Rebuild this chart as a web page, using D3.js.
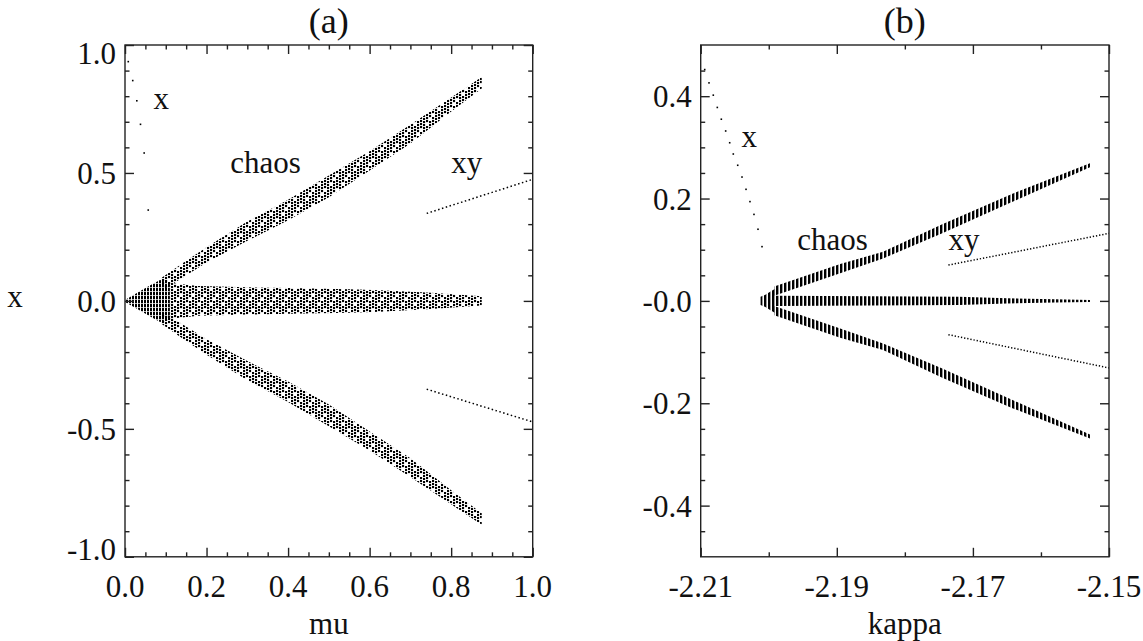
<!DOCTYPE html>
<html>
<head>
<meta charset="utf-8">
<script src="https://cdn.jsdelivr.net/npm/d3@7"></script>
<style>
  body { margin: 0; background: #fff; }
</style>
</head>
<body>
<svg id="chart" width="1143" height="641" font-family="Liberation Serif, DejaVu Serif, serif"></svg>
<script>
// ---------- panel (a): orbit diagram against mu ----------
const muDomain = [0, 1];
const xDomainA = [-1, 1];
const muMajorTicks = [0, 0.2, 0.4, 0.6, 0.8, 1.0];
const muTickLabels = ["0.0", "0.2", "0.4", "0.6", "0.8", "1.0"];
const muMinorTicks = [0.05, 0.1, 0.15, 0.25, 0.3, 0.35, 0.45, 0.5, 0.55, 0.65, 0.7, 0.75, 0.85, 0.9, 0.95];
const xaMajorTicks = [-1, -0.5, 0, 0.5, 1];
const xaTickLabels = ["-1.0", "-0.5", "0.0", "0.5", "1.0"];
const xaMinorTicks = [-0.9, -0.8, -0.7, -0.6, -0.4, -0.3, -0.2, -0.1, 0.1, 0.2, 0.3, 0.4, 0.6, 0.7, 0.8, 0.9];

// single fixed point (x branch)
const muFixed = [0.008, 0.019, 0.029, 0.038, 0.047, 0.057];
const xFixedA = [0.935, 0.861, 0.782, 0.690, 0.578, 0.355];

// chaotic set: opening fan, central band and the two symmetric wings
const muFan = [0.0, 0.025, 0.061, 0.086, 0.11];
const fanHalfA = [0.004, 0.027, 0.06, 0.082, 0.07];
const muCentre = [0.11, 0.18, 0.25, 0.40, 0.55, 0.625, 0.75, 0.875];
const centreHalfA = [0.07, 0.058, 0.055, 0.05, 0.046, 0.042, 0.032, 0.018];
const muWing = [0.09, 0.135, 0.2, 0.3, 0.4, 0.5, 0.6, 0.7, 0.8, 0.875];
const wingLoA = [0.04, 0.085, 0.15, 0.235, 0.315, 0.405, 0.51, 0.615, 0.74, 0.83];
const wingHiA = [0.09, 0.14, 0.21, 0.31, 0.395, 0.49, 0.585, 0.688, 0.795, 0.875];

// xy (two-component) branch
const muXY = [0.74, 1.0];
const xyUpperA = [0.342, 0.475];
const xyLowerA = [-0.345, -0.473];

// ---------- panel (b): orbit diagram against kappa ----------
const kappaDomain = [-2.21, -2.15];
const xDomainB = [-0.5, 0.5];
const kappaMajorTicks = [-2.21, -2.19, -2.17, -2.15];
const kappaTickLabels = ["-2.21", "-2.19", "-2.17", "-2.15"];
const kappaMinorTicks = [-2.20, -2.18, -2.16];
const xbMajorTicks = [-0.4, -0.2, 0, 0.2, 0.4];
const xbTickLabels = ["-0.4", "-0.2", "-0.0", "0.2", "0.4"];
const xbMinorTicks = [-0.45, -0.35, -0.3, -0.25, -0.15, -0.1, -0.05, 0.05, 0.1, 0.15, 0.25, 0.3, 0.35, 0.45];

const kappaFixed = [-2.20941, -2.20878, -2.20815, -2.20756, -2.20697, -2.20633, -2.20574, -2.20521,
                    -2.20456, -2.20393, -2.20334, -2.20276, -2.20217, -2.20158, -2.20099];
const xFixedB = [0.452, 0.426, 0.402, 0.378, 0.355, 0.332, 0.309, 0.287,
                 0.265, 0.242, 0.218, 0.194, 0.169, 0.140, 0.106];

const kappaFan = [-2.2012, -2.2005, -2.1998, -2.1990];
const fanHalfB = [0.008, 0.012, 0.018, 0.024];
const kappaCentre = [-2.1990, -2.1850, -2.1720, -2.1650, -2.1580, -2.1528];
const centreHalfB = [0.010, 0.009, 0.008, 0.005, 0.003, 0.002];
const kappaWing = [-2.1992, -2.1895, -2.1832, -2.1745, -2.1641, -2.1528];
const wingLoB = [0.010, 0.054, 0.083, 0.132, 0.194, 0.261];
const wingHiB = [0.028, 0.072, 0.096, 0.150, 0.210, 0.269];

const kappaXY = [-2.1736, -2.15];
const xyUpperB = [0.070, 0.132];
const xyLowerB = [-0.066, -0.131];

// annotation labels [parameter, x, text]
const labelsA = [[0.07, 0.75, "x"], [0.258, 0.5, "chaos"], [0.80, 0.5, "xy"]];
const labelsB = [[-2.2040, 0.30, "x"], [-2.1958, 0.10, "chaos"], [-2.1736, 0.10, "xy"]];

// ---------- layout ----------
const svg = d3.select("#chart");
const frameTop = 45, frameBottom = 556.8;
const FONT = 31;
const INK = "#111";

const defs = svg.append("defs");

// speckle texture for the scattered orbit points of panel (a):
// columns 3px apart, dots about 3px apart vertically, some cells empty
const speckle = [
  [0, 0], [3, 1], [6, 0], [9, 1],
  [0, 3], [3, 4], [9, 4],
  [0, 6], [3, 7], [6, 6], [9, 7],
  [3, 10], [6, 9], [9, 10],
  [0, 12], [3, 13], [6, 12]
];
const pDots = defs.append("pattern").attr("id", "dotsA")
  .attr("patternUnits", "userSpaceOnUse").attr("width", 12).attr("height", 15);
pDots.selectAll("rect").data(speckle).join("rect")
  .attr("x", d => d[0]).attr("y", d => d[1])
  .attr("width", 2.1).attr("height", 2.1).attr("fill", "#000");

// denser columns near the onset of chaos
const pCols = defs.append("pattern").attr("id", "colsA")
  .attr("patternUnits", "userSpaceOnUse").attr("width", 3).attr("height", 4);
pCols.append("rect").attr("width", 2).attr("height", 3.3).attr("fill", "#000");

// vertical bars of panel (b)
const pBars = defs.append("pattern").attr("id", "barsB")
  .attr("patternUnits", "userSpaceOnUse").attr("width", 4).attr("height", 8);
pBars.append("rect").attr("width", 2.4).attr("height", 8).attr("fill", "#000");

function zipBand(ps, lo, hi) {
  return ps.map((p, i) => ({ p, lo: lo[i], hi: hi[i] }));
}

function drawPanel(cfg) {
  const x = d3.scaleLinear().domain(cfg.xDomain).range([cfg.left, cfg.right]);
  const y = d3.scaleLinear().domain(cfg.yDomain).range([frameBottom, frameTop]);
  const g = svg.append("g");

  const clipId = "clip" + cfg.id;
  defs.append("clipPath").attr("id", clipId).append("rect")
    .attr("x", cfg.left).attr("y", frameTop)
    .attr("width", cfg.right - cfg.left).attr("height", frameBottom - frameTop);
  const plot = g.append("g").attr("clip-path", `url(#${clipId})`);

  const area = d3.area().x(d => x(d.p)).y0(d => y(d.lo)).y1(d => y(d.hi));

  // fan, central band and wings of the chaotic attractor
  plot.append("path")
    .attr("d", area(zipBand(cfg.fanP, cfg.fanHalf.map(v => -v), cfg.fanHalf)))
    .attr("fill", `url(#${cfg.fanFill})`);
  plot.append("path")
    .attr("d", area(zipBand(cfg.centreP, cfg.centreHalf.map(v => -v), cfg.centreHalf)))
    .attr("fill", `url(#${cfg.bandFill})`);
  plot.append("path")
    .attr("d", area(zipBand(cfg.wingP, cfg.wingLo, cfg.wingHi)))
    .attr("fill", `url(#${cfg.bandFill})`);
  plot.append("path")
    .attr("d", area(zipBand(cfg.wingP, cfg.wingHi.map(v => -v), cfg.wingLo.map(v => -v))))
    .attr("fill", `url(#${cfg.bandFill})`);

  // fixed point branch
  plot.selectAll("rect.fixed").data(cfg.fixedP).join("rect")
    .attr("class", "fixed")
    .attr("x", (d) => x(d) - 0.8)
    .attr("y", (d, i) => y(cfg.fixedX[i]) - 0.8)
    .attr("width", 1.6).attr("height", 1.6).attr("fill", "#000");

  // xy branches, drawn as fine dotted lines
  const line = d3.line().x(d => x(d[0])).y(d => y(d[1]));
  [cfg.xyUpper, cfg.xyLower].forEach(vals => {
    plot.append("path")
      .attr("d", line(cfg.xyP.map((p, i) => [p, vals[i]])))
      .attr("fill", "none").attr("stroke", "#000")
      .attr("stroke-width", 1.5).attr("stroke-dasharray", cfg.xyDash);
  });

  // frame
  g.append("rect")
    .attr("x", cfg.left).attr("y", frameTop)
    .attr("width", cfg.right - cfg.left).attr("height", frameBottom - frameTop)
    .attr("fill", "none").attr("stroke", "#222").attr("stroke-width", 1.4);

  // inward ticks on all four sides
  const MAJ = 9, MIN = 4.5;
  function tickSet(axisFn, scale, vals, size, transform) {
    const ax = g.append("g").attr("transform", transform)
      .call(axisFn(scale).tickValues(vals).tickSize(-size).tickFormat(""));
    ax.select(".domain").remove();
    ax.selectAll("line").attr("stroke", "#222").attr("stroke-width", 1.4);
  }
  tickSet(d3.axisBottom, x, cfg.xMajor, MAJ, `translate(0,${frameBottom})`);
  tickSet(d3.axisBottom, x, cfg.xMinor, MIN, `translate(0,${frameBottom})`);
  tickSet(d3.axisTop, x, cfg.xMajor, MAJ, `translate(0,${frameTop})`);
  tickSet(d3.axisTop, x, cfg.xMinor, MIN, `translate(0,${frameTop})`);
  tickSet(d3.axisLeft, y, cfg.yMajor, MAJ, `translate(${cfg.left},0)`);
  tickSet(d3.axisLeft, y, cfg.yMinor, MIN, `translate(${cfg.left},0)`);
  tickSet(d3.axisRight, y, cfg.yMajor, MAJ, `translate(${cfg.right},0)`);
  tickSet(d3.axisRight, y, cfg.yMinor, MIN, `translate(${cfg.right},0)`);

  const txt = (sel) => sel.attr("font-family", "Liberation Serif, DejaVu Serif, serif").attr("fill", INK);

  // tick labels
  g.selectAll("text.xl").data(cfg.xMajor).join("text")
    .attr("class", "xl").call(txt)
    .attr("x", d => x(d)).attr("y", frameBottom + 40)
    .attr("text-anchor", "middle").attr("font-size", FONT)
    .text((d, i) => cfg.xLabels[i]);
  const [yMin, yMax] = cfg.yDomain;
  g.selectAll("text.yl").data(cfg.yMajor).join("text")
    .attr("class", "yl").call(txt)
    .attr("x", cfg.left - 9)
    .attr("y", d => {
      let py = y(d) + 11;
      if (d === yMax) py += 8;      // end labels kept inside the frame height
      if (d === yMin) py -= 8;
      return py;
    })
    .attr("text-anchor", "end").attr("font-size", FONT)
    .text((d, i) => cfg.yLabels[i]);

  // annotations
  g.selectAll("text.ann").data(cfg.labels).join("text")
    .attr("class", "ann").call(txt)
    .attr("x", d => x(d[0])).attr("y", d => y(d[1]))
    .attr("font-size", FONT)
    .text(d => d[2]);

  // titles
  const cx = (cfg.left + cfg.right) / 2;
  g.append("text").call(txt).attr("x", cx).attr("y", 33)
    .attr("text-anchor", "middle").attr("font-size", 36).text(cfg.title);
  g.append("text").call(txt).attr("x", cx).attr("y", 634)
    .attr("text-anchor", "middle").attr("font-size", FONT).text(cfg.xTitle);
  if (cfg.yTitle) {
    g.append("text").call(txt).attr("x", 15).attr("y", y(0) + 6)
      .attr("text-anchor", "middle").attr("font-size", FONT).text(cfg.yTitle);
  }
}

drawPanel({
  id: "A", left: 125, right: 532.7,
  xDomain: muDomain, yDomain: xDomainA,
  xMajor: muMajorTicks, xMinor: muMinorTicks, xLabels: muTickLabels,
  yMajor: xaMajorTicks, yMinor: xaMinorTicks, yLabels: xaTickLabels,
  fixedP: muFixed, fixedX: xFixedA,
  fanP: muFan, fanHalf: fanHalfA,
  centreP: muCentre, centreHalf: centreHalfA,
  wingP: muWing, wingLo: wingLoA, wingHi: wingHiA,
  fanFill: "colsA", bandFill: "dotsA",
  xyP: muXY, xyUpper: xyUpperA, xyLower: xyLowerA, xyDash: "1.5,2.5",
  labels: labelsA, title: "(a)", xTitle: "mu", yTitle: "x"
});

drawPanel({
  id: "B", left: 700.7, right: 1109,
  xDomain: kappaDomain, yDomain: xDomainB,
  xMajor: kappaMajorTicks, xMinor: kappaMinorTicks, xLabels: kappaTickLabels,
  yMajor: xbMajorTicks, yMinor: xbMinorTicks, yLabels: xbTickLabels,
  fixedP: kappaFixed, fixedX: xFixedB,
  fanP: kappaFan, fanHalf: fanHalfB,
  centreP: kappaCentre, centreHalf: centreHalfB,
  wingP: kappaWing, wingLo: wingLoB, wingHi: wingHiB,
  fanFill: "barsB", bandFill: "barsB",
  xyP: kappaXY, xyUpper: xyUpperB, xyLower: xyLowerB, xyDash: "1.3,1.9",
  labels: labelsB, title: "(b)", xTitle: "kappa", yTitle: null
});
</script>
</body>
</html>
